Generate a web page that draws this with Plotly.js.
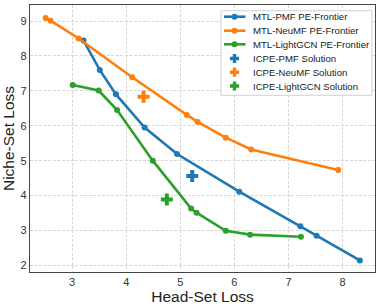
<!DOCTYPE html>
<html><head><meta charset="utf-8">
<script src="https://cdn.plot.ly/plotly-3.0.1.min.js"></script>
<style>html,body{margin:0;padding:0;background:#fff}#c{width:382px;height:306px}</style>
</head><body><div id="c"></div>
<script>
const pmfX = [3.21, 3.51, 3.81, 4.34, 4.94, 6.09, 7.22, 7.52, 8.32];
const pmfY = [8.44, 7.60, 6.90, 5.95, 5.19, 4.11, 3.12, 2.85, 2.14];
const neumfX = [2.51, 2.60, 3.12, 4.11, 5.12, 5.32, 5.84, 6.31, 7.92];
const neumfY = [9.09, 9.01, 8.50, 7.39, 6.31, 6.11, 5.66, 5.32, 4.73];
const lgcnX = [3.01, 3.49, 3.83, 4.49, 5.20, 5.30, 5.84, 6.29, 7.23];
const lgcnY = [7.17, 7.01, 6.45, 5.00, 3.63, 3.51, 2.99, 2.88, 2.82];
const icpeNames = ["ICPE-PMF Solution", "ICPE-NeuMF Solution", "ICPE-LightGCN Solution"];
const icpeX = [5.22, 4.32, 4.75];
const icpeY = [4.56, 6.83, 3.89];
const lineNames = ["MTL-PMF PE-Frontier", "MTL-NeuMF PE-Frontier", "MTL-LightGCN PE-Frontier"];
const colors = ["#1f77b4", "#ff7f0e", "#2ca02c"];
const xTicks = [3, 4, 5, 6, 7, 8];
const yTicks = [2, 3, 4, 5, 6, 7, 8, 9];

const W = 382, H = 306, M = {l: 30, r: 7, t: 5, b: 34};
const lx = [pmfX, neumfX, lgcnX], ly = [pmfY, neumfY, lgcnY];
const traces = [];
for (let i = 0; i < 3; i++) {
  traces.push({x: lx[i], y: ly[i], name: lineNames[i], type: 'scatter', mode: 'lines+markers',
    line: {color: colors[i], width: 2.6}, marker: {color: colors[i], size: 6}, showlegend: false});
}
for (let i = 0; i < 3; i++) {
  traces.push({x: [icpeX[i]], y: [icpeY[i]], name: icpeNames[i], type: 'scatter', mode: 'markers',
    marker: {color: colors[i], size: 10, symbol: 'cross'}, showlegend: false});
}
// Invisible anchor trace for the pixel-unit overlay axes used by the legend
traces.push({x: [M.l], y: [M.t], xaxis: 'x2', yaxis: 'y2', type: 'scatter', mode: 'markers',
  marker: {opacity: 0}, showlegend: false, hoverinfo: 'skip'});

// Legend drawn as shapes/annotations in page-pixel units
const allNames = lineNames.concat(icpeNames);
const rowY = [16.7, 30.7, 44.3, 58.5, 72.2, 86];
const annotations = [];
const shapes = [{type: 'rect', xref: 'x2', yref: 'y2', x0: 221, x1: 372, y0: 10.7, y1: 95.3,
  line: {color: '#d0d0d0', width: 1}, fillcolor: '#ffffff', layer: 'above'}];
const mx = 234.5;
for (let i = 0; i < 6; i++) {
  const y = rowY[i];
  if (i < 3) {
    shapes.push({type: 'line', xref: 'x2', yref: 'y2', x0: 224, x1: 245.5, y0: y, y1: y,
      line: {color: colors[i], width: 2.6}, layer: 'above'});
    shapes.push({type: 'circle', xref: 'x2', yref: 'y2', x0: mx - 3, x1: mx + 3, y0: y - 3, y1: y + 3,
      line: {width: 0}, fillcolor: colors[i], layer: 'above'});
  } else {
    const a = 4.6, t = 1.7;
    const p = `M${mx - t},${y - a} L${mx + t},${y - a} L${mx + t},${y - t} L${mx + a},${y - t} L${mx + a},${y + t} ` +
      `L${mx + t},${y + t} L${mx + t},${y + a} L${mx - t},${y + a} L${mx - t},${y + t} L${mx - a},${y + t} ` +
      `L${mx - a},${y - t} L${mx - t},${y - t} Z`;
    shapes.push({type: 'path', xref: 'x2', yref: 'y2', path: p, line: {width: 0},
      fillcolor: colors[i - 3], layer: 'above'});
  }
  annotations.push({text: allNames[i], xref: 'x2', yref: 'y2', x: 251, y: y, xanchor: 'left',
    yanchor: 'middle', showarrow: false, font: {size: 9.6, color: '#1a1a1a'}});
}
const font = "Liberation Sans, Arial, sans-serif";
const gridStyle = {showgrid: true, gridcolor: '#d4d4d4', griddash: '3px,1.5px', gridwidth: 0.9,
  zeroline: false, showline: true, linecolor: '#444', linewidth: 1.2, mirror: true,
  ticks: '', tickfont: {size: 11, color: '#333'}};
const layout = {
  width: W, height: H,
  margin: M,
  paper_bgcolor: '#fff', plot_bgcolor: '#fff',
  font: {family: font, color: '#222'},
  showlegend: false,
  annotations: annotations,
  shapes: shapes,
  xaxis: Object.assign({range: [2.22, 8.60], tickvals: xTicks, ticktext: xTicks.map(String),
    title: {text: 'Head-Set Loss', font: {size: 15.5, color: '#222'}, standoff: 0}}, gridStyle),
  yaxis: Object.assign({range: [1.81, 9.46], tickvals: yTicks, ticktext: yTicks.map(String),
    title: {text: 'Niche-Set Loss', font: {size: 15.5, color: '#222'}, standoff: 3}}, gridStyle),
  xaxis2: {overlaying: 'x', range: [M.l, W - M.r], visible: false, fixedrange: true},
  yaxis2: {overlaying: 'y', range: [H - M.b, M.t], visible: false, fixedrange: true}
};
Plotly.newPlot('c', traces, layout, {staticPlot: true, displayModeBar: false});
</script></body></html>
